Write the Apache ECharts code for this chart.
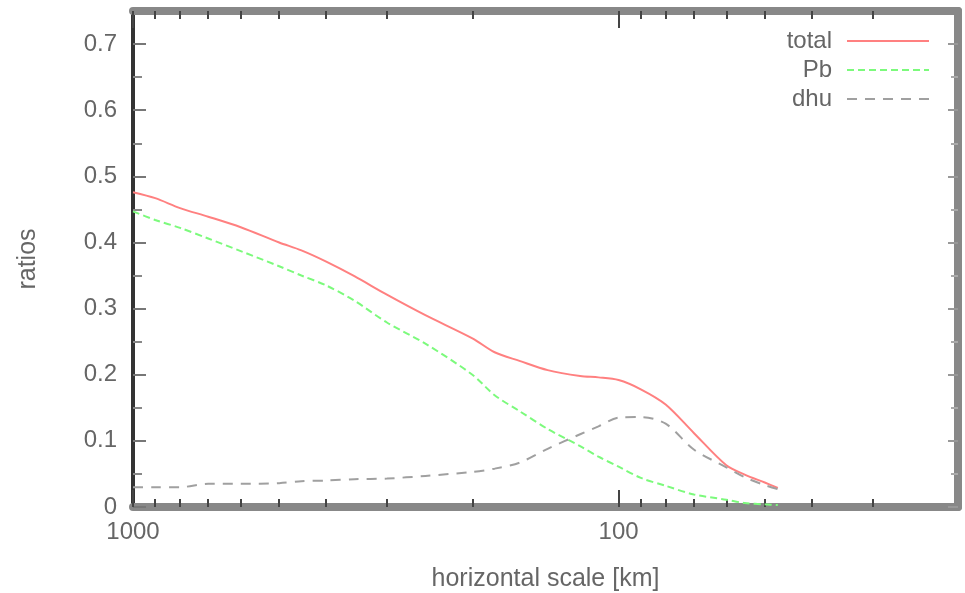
<!DOCTYPE html>
<html>
<head>
<meta charset="utf-8">
<script src="https://cdn.jsdelivr.net/npm/echarts@6/dist/echarts.min.js"></script>
<style>
html,body{margin:0;padding:0;background:#ffffff;}
#chart{width:965px;height:593px;}
</style>
</head>
<body>
<div id="chart"></div>
<script>
// ---- data ----
const kmScale    = [1000, 900, 800, 700, 600, 500, 450, 400, 350, 300, 250, 200, 180, 160, 140, 120, 110, 100, 90, 80, 70, 60, 55, 50, 47];
const totalRatio = [0.476, 0.467, 0.452, 0.439, 0.423, 0.400, 0.388, 0.371, 0.349, 0.321, 0.290, 0.255, 0.234, 0.221, 0.207, 0.198, 0.196, 0.192, 0.178, 0.155, 0.112, 0.063, 0.049, 0.037, 0.029];
const pbRatio    = [0.447, 0.434, 0.422, 0.406, 0.387, 0.364, 0.350, 0.335, 0.312, 0.279, 0.247, 0.200, 0.169, 0.145, 0.118, 0.092, 0.076, 0.061, 0.044, 0.032, 0.019, 0.011, 0.006, 0.004, 0.003];
const dhuRatio   = [0.030, 0.030, 0.030, 0.035, 0.035, 0.036, 0.039, 0.040, 0.042, 0.043, 0.047, 0.053, 0.058, 0.067, 0.088, 0.110, 0.122, 0.135, 0.136, 0.126, 0.087, 0.060, 0.045, 0.033, 0.027];
const seriesNames = ['total', 'Pb', 'dhu'];
const xLabelValues = [1000, 100];
const xMinorTicks  = [900, 800, 700, 600, 500, 400, 300, 200, 90, 80, 70, 60, 50, 40, 30];
const xMajorTicks  = [1000, 100];
const yLabelValues = [0, 0.1, 0.2, 0.3, 0.4, 0.5, 0.6, 0.7];
const yMinorTicks  = [0.05, 0.15, 0.25, 0.35, 0.45, 0.55, 0.65];
const xAxisTitle = 'horizontal scale [km]';
const yAxisTitle = 'ratios';

const FONT = '"Liberation Sans", Arial, sans-serif';
const TXT = '#666666';

const toPairs = vals => kmScale.map((k, i) => [k, vals[i]]);

function xAxisBase(pos) {
  return {
    type: 'log', logBase: 10, min: 20, max: 1000, inverse: true,
    position: pos, gridIndex: 0,
    splitLine: { show: false }, minorTick: { show: false }, minorSplitLine: { show: false }
  };
}
function yAxisBase(pos) {
  return {
    type: 'value', min: 0, max: 0.75, position: pos, gridIndex: 0,
    splitLine: { show: false }
  };
}

const chart = echarts.init(document.getElementById('chart'), null, { renderer: 'canvas' });

const option = {
  backgroundColor: '#ffffff',
  animation: false,
  textStyle: { fontFamily: FONT },
  grid: { left: 133, right: 7, top: 11, bottom: 86, containLabel: false, outerBoundsMode: 'none' },
  legend: {
    data: seriesNames,
    orient: 'vertical',
    right: 30, top: 24,
    align: 'right',
    itemWidth: 82, itemHeight: 14, itemGap: 5,
    itemStyle: { opacity: 0 },
    textStyle: { fontSize: 24, color: TXT, fontFamily: FONT, padding: [0, 10, 0, 0] }
  },
  xAxis: [
    Object.assign(xAxisBase('bottom'), {
      name: xAxisTitle, nameLocation: 'middle', nameGap: 60,
      nameTextStyle: { fontSize: 25, color: TXT, fontFamily: FONT },
      axisLine: { show: true, onZero: false, lineStyle: { color: '#888888', width: 8 } },
      axisTick: { show: true, inside: true, length: 8, customValues: xMinorTicks, lineStyle: { color: '#444444', width: 2 } },
      axisLabel: { show: true, customValues: xLabelValues, margin: 13, fontSize: 24, color: TXT, fontFamily: FONT,
                   formatter: v => String(Math.round(v)) }
    }),
    Object.assign(xAxisBase('top'), {
      axisLine: { show: true, onZero: false, lineStyle: { color: '#888888', width: 8 } },
      axisTick: { show: true, inside: true, length: 8, customValues: xMinorTicks, lineStyle: { color: '#444444', width: 2 } },
      axisLabel: { show: false }
    }),
    Object.assign(xAxisBase('bottom'), {
      axisLine: { show: false, onZero: false },
      axisTick: { show: true, inside: true, length: 17, customValues: xMajorTicks, lineStyle: { color: '#444444', width: 2 } },
      axisLabel: { show: false }
    }),
    Object.assign(xAxisBase('top'), {
      axisLine: { show: false, onZero: false },
      axisTick: { show: true, inside: true, length: 17, customValues: xMajorTicks, lineStyle: { color: '#444444', width: 2 } },
      axisLabel: { show: false }
    })
  ],
  yAxis: [
    Object.assign(yAxisBase('left'), {
      name: yAxisTitle, nameLocation: 'middle', nameGap: 92, nameRotate: 90,
      nameTextStyle: { fontSize: 25, color: TXT, fontFamily: FONT },
      axisLine: { show: true, onZero: false, lineStyle: { color: '#333333', width: 4 } },
      axisTick: { show: true, inside: true, length: 13, customValues: yLabelValues, lineStyle: { color: '#777777', width: 2 } },
      axisLabel: { show: true, customValues: yLabelValues, margin: 16, fontSize: 24, color: TXT, fontFamily: FONT }
    }),
    Object.assign(yAxisBase('left'), {
      axisLine: { show: false, onZero: false },
      axisTick: { show: true, inside: true, length: 9, customValues: yMinorTicks, lineStyle: { color: '#888888', width: 2 } },
      axisLabel: { show: false }
    }),
    Object.assign(yAxisBase('right'), {
      axisLine: { show: true, onZero: false, lineStyle: { color: '#888888', width: 8 } },
      axisTick: { show: true, inside: true, length: 10, customValues: yLabelValues, lineStyle: { color: '#999999', width: 2 } },
      axisLabel: { show: false }
    }),
    Object.assign(yAxisBase('right'), {
      axisLine: { show: false, onZero: false },
      axisTick: { show: true, inside: true, length: 7, customValues: yMinorTicks, lineStyle: { color: '#aaaaaa', width: 2 } },
      axisLabel: { show: false }
    })
  ],
  series: [
    {
      name: seriesNames[0], type: 'line', xAxisIndex: 0, yAxisIndex: 0,
      data: toPairs(totalRatio), symbol: 'none', showSymbol: false, smooth: 0.3,
      lineStyle: { color: '#ff8080', width: 2, type: 'solid' },
      itemStyle: { color: '#ff8080' }
    },
    {
      name: seriesNames[1], type: 'line', xAxisIndex: 0, yAxisIndex: 0,
      data: toPairs(pbRatio), symbol: 'none', showSymbol: false, smooth: 0.3,
      lineStyle: { color: '#7cfa7c', width: 2, type: [7, 4] },
      itemStyle: { color: '#7cfa7c' }
    },
    {
      name: seriesNames[2], type: 'line', xAxisIndex: 0, yAxisIndex: 0,
      data: toPairs(dhuRatio), symbol: 'none', showSymbol: false, smooth: 0.3,
      lineStyle: { color: '#a0a0a0', width: 2, type: [10, 8] },
      itemStyle: { color: '#a0a0a0' }
    }
  ]
};
chart.setOption(option);
</script>
</body>
</html>
